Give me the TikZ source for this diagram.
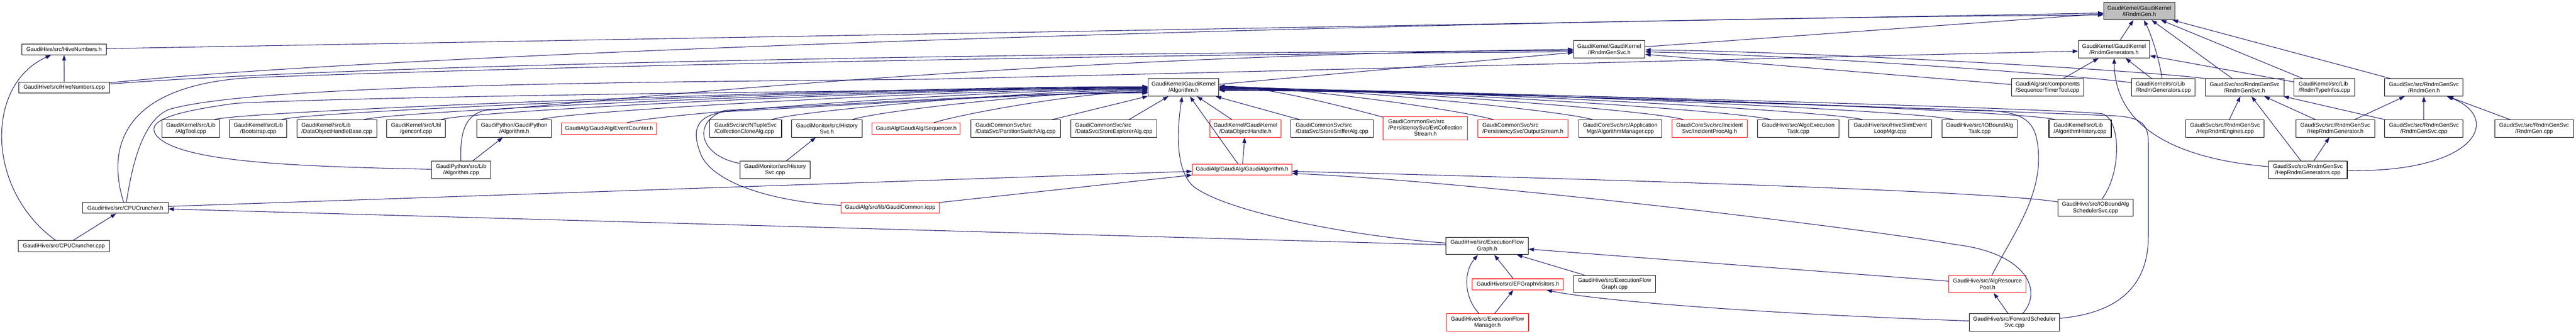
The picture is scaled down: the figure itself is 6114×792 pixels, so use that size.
\documentclass[tikz,border=0pt]{standalone}
\usepackage{fontspec}
\setmainfont{Liberation Sans}
\usetikzlibrary{arrows.meta}

\definecolor{edgeblue}{HTML}{191970}
\definecolor{mainfill}{HTML}{BFBFBF}
\newcommand{\doxfont}{\fontsize{13.3}{15}\selectfont}

\tikzset{
  file/.style={draw=black, line width=1.3pt, fill=white, inner sep=0pt, align=center, font=\doxfont},
  redfile/.style={file, draw=red},
  one/.style={minimum height=26pt},
  two/.style={minimum height=41pt},
  three/.style={minimum height=55pt},
  inc/.style={draw=edgeblue, line width=1.3pt, -{Triangle[length=13pt,width=9pt]}}
}

\begin{document}
\begin{tikzpicture}[x=1pt, y=1pt]
        \fill[white] (0,0) rectangle (6114,-792);
        \useasboundingbox (0,0) rectangle (6114,-792);

        % The header itself
        \node[file, two, fill=mainfill, minimum width=169pt] (irndmgen) at (5077.5,-26.5) {GaudiKernel/GaudiKernel\\/IRndmGen.h};

        % Row 1
        \node[file, one, minimum width=200pt] (hivenumh) at (152,-117) {GaudiHive/src/HiveNumbers.h};
        \node[file, two, minimum width=169pt] (irndmsvc) at (3819.5,-117) {GaudiKernel/GaudiKernel\\/IRndmGenSvc.h};
        \node[file, two, minimum width=169pt] (rndmgensh) at (5017.5,-117) {GaudiKernel/GaudiKernel\\/RndmGenerators.h};

        % Row 2
        \node[file, one, minimum width=215pt] (hivenumcpp) at (152.5,-207.5) {GaudiHive/src/HiveNumbers.cpp};
        \node[file, two, minimum width=168pt] (algh) at (2809,-207.5) {GaudiKernel/GaudiKernel\\/Algorithm.h};
        \node[file, two, align=left, minimum width=172pt] (seqtimer) at (4860,-207.5) {GaudiAlg/src/components\\/SequencerTimerTool.cpp};
        \node[file, two, align=left, minimum width=151pt] (rndmgencpp) at (5134.5,-207.5) {GaudiKernel/src/Lib\\/RndmGenerators.cpp};
        \node[file, two, minimum width=187pt] (rndmsvch) at (5327.5,-207.5) {GaudiSvc/src/RndmGenSvc\\/RndmGenSvc.h};
        \node[file, two, align=left, minimum width=144pt] (rndmtypes) at (5517,-207.5) {GaudiKernel/src/Lib\\/RndmTypeInfos.cpp};
        \node[file, two, minimum width=186pt] (rndmgenh) at (5753,-207.5) {GaudiSvc/src/RndmGenSvc\\/RndmGen.h};

        % Row 3
        \node[file, two, minimum width=136pt] (algtool) at (453,-305) {GaudiKernel/src/Lib\\/AlgTool.cpp};
        \node[file, two, minimum width=136pt] (bootstrap) at (613,-305) {GaudiKernel/src/Lib\\/Bootstrap.cpp};
        \node[file, two, align=left, minimum width=189pt] (dohbase) at (799.5,-305) {GaudiKernel/src/Lib\\/DataObjectHandleBase.cpp};
        \node[file, two, minimum width=139pt] (genconf) at (987.5,-305) {GaudiKernel/src/Util\\/genconf.cpp};
        \node[file, two, minimum width=177pt] (pyalgh) at (1220.5,-305) {GaudiPython/GaudiPython\\/Algorithm.h};
        \node[redfile, one, minimum width=227pt] (evtcounter) at (1445.5,-305) {GaudiAlg/GaudiAlg/EventCounter.h};
        \node[file, two, align=left, minimum width=171pt] (collclone) at (1769.5,-305) {GaudiSvc/src/NTupleSvc\\/CollectionCloneAlg.cpp};
        \node[file, two, minimum width=167pt] (histsvch) at (1962.5,-305) {GaudiMonitor/src/History\\Svc.h};
        \node[redfile, one, minimum width=209pt] (sequencer) at (2174.5,-305) {GaudiAlg/GaudiAlg/Sequencer.h};
        \node[file, two, align=left, minimum width=213pt] (partswitch) at (2410.5,-305) {GaudiCommonSvc/src\\/DataSvc/PartitionSwitchAlg.cpp};
        \node[file, two, align=left, minimum width=205pt] (storeexpl) at (2643.5,-305) {GaudiCommonSvc/src\\/DataSvc/StoreExplorerAlg.cpp};
        \node[redfile, two, minimum width=168pt] (dohandle) at (2956,-305) {GaudiKernel/GaudiKernel\\/DataObjectHandle.h};
        \node[file, two, align=left, minimum width=195pt] (storesniff) at (3161.5,-305) {GaudiCommonSvc/src\\/DataSvc/StoreSnifferAlg.cpp};
        \node[redfile, three, minimum width=200pt] (evtcoll) at (3383,-304.5) {\begin{tabular}{@{}l@{}}GaudiCommonSvc/src\\/PersistencySvc/EvtCollection\\\multicolumn{1}{@{}c@{}}{Stream.h}\end{tabular}};
        \node[redfile, two, align=left, minimum width=215pt] (outstream) at (3614.5,-305) {GaudiCommonSvc/src\\/PersistencySvc/OutputStream.h};
        \node[file, two, minimum width=197pt] (algmgr) at (3845.5,-305) {GaudiCoreSvc/src/Application\\Mgr/AlgorithmManager.cpp};
        \node[redfile, two, minimum width=179pt] (incproc) at (4057.5,-305) {GaudiCoreSvc/src/Incident\\Svc/IncidentProcAlg.h};
        \node[file, two, minimum width=194pt] (algoexec) at (4268,-305) {GaudiHive/src/AlgoExecution\\Task.cpp};
        \node[file, two, minimum width=197pt] (hiveslim) at (4486.5,-305) {GaudiHive/src/HiveSlimEvent\\LoopMgr.cpp};
        \node[file, two, minimum width=179pt] (iotask) at (4698.5,-305) {GaudiHive/src/IOBoundAlg\\Task.cpp};
        \node[file, two, align=left, minimum width=148pt] (alghist) at (4937,-305) {GaudiKernel/src/Lib\\/AlgorithmHistory.cpp};
        \node[file, two, minimum width=186pt] (hepengines) at (5281,-305) {GaudiSvc/src/RndmGenSvc\\/HepRndmEngines.cpp};
        \node[file, two, minimum width=187pt] (hepgenh) at (5542.5,-305) {GaudiSvc/src/RndmGenSvc\\/HepRndmGenerator.h};
        \node[file, two, minimum width=186pt] (rndmsvccpp) at (5753,-305) {GaudiSvc/src/RndmGenSvc\\/RndmGenSvc.cpp};
        \node[file, two, minimum width=187pt] (rndmgen) at (6014.5,-305) {GaudiSvc/src/RndmGenSvc\\/RndmGen.cpp};

        % Row 4
        \node[file, two, minimum width=141pt] (pyalgcpp) at (1094.5,-403) {GaudiPython/src/Lib\\/Algorithm.cpp};
        \node[file, two, minimum width=167pt] (histsvccpp) at (1839.5,-403) {GaudiMonitor/src/History\\Svc.cpp};
        \node[redfile, one, minimum width=236pt] (gaudialgh) at (2948,-402.5) {GaudiAlg/GaudiAlg/GaudiAlgorithm.h};
        \node[file, two, minimum width=187pt] (hepgens) at (5477.5,-403) {GaudiSvc/src/RndmGenSvc\\/HepRndmGenerators.cpp};

        % Row 5
        \node[file, one, minimum width=203pt] (cpuh) at (297.5,-493) {GaudiHive/src/CPUCruncher.h};
        \node[redfile, one, minimum width=234pt] (gcommon) at (2113,-493) {GaudiAlg/src/lib/GaudiCommon.icpp};
        \node[file, two, minimum width=179pt] (iosched) at (4973.5,-493) {GaudiHive/src/IOBoundAlg\\SchedulerSvc.cpp};

        % Row 6
        \node[file, one, minimum width=217pt] (cpucpp) at (151.5,-584) {GaudiHive/src/CPUCruncher.cpp};
        \node[file, two, minimum width=195pt] (efgraphh) at (3529.5,-583.5) {GaudiHive/src/ExecutionFlow\\Graph.h};

        % Row 7
        \node[redfile, one, minimum width=217pt] (efvisit) at (3602.5,-674.5) {GaudiHive/src/EFGraphVisitors.h};
        \node[file, two, minimum width=194pt] (efgraphcpp) at (3832,-674) {GaudiHive/src/ExecutionFlow\\Graph.cpp};
        \node[redfile, two, minimum width=184pt] (algpool) at (4717,-674) {GaudiHive/src/AlgResource\\Pool.h};

        % Row 8
        \node[redfile, two, minimum width=195pt] (efmanager) at (3530.5,-765) {GaudiHive/src/ExecutionFlow\\Manager.h};
        \node[file, two, minimum width=214pt] (fwdsched) at (4781,-765) {GaudiHive/src/ForwardScheduler\\Svc.cpp};

        % Who includes IRndmGen.h
        \draw[inc] (hivenumh) -- (irndmgen.183);
        \draw[inc] (hivenumcpp) .. controls (1000,-120) and (3500,-45) .. (irndmgen.186);
        \draw[inc] (irndmsvc) -- (irndmgen);
        \draw[inc] (rndmgensh) -- (irndmgen);
        \draw[inc] (rndmgencpp) .. controls (5125,-140) and (5105,-80) .. (irndmgen);
        \draw[inc] (rndmsvch) -- (irndmgen);
        \draw[inc] (rndmtypes) -- (irndmgen);
        \draw[inc] (rndmgenh) -- (irndmgen);

        % Who includes IRndmGenSvc.h
        \draw[inc] (algh) -- (irndmsvc);
        \draw[inc] (hivenumcpp) .. controls (900,-150) and (2500,-125) .. (irndmsvc.182);
        \draw[inc] (cpuh) .. controls (250,-340) and (300,-200) .. (600,-184) .. controls (1500,-150) and (3000,-126) .. (irndmsvc.184);
        \draw[inc] (pyalgcpp) .. controls (1092,-320) and (1100,-275) .. (1150,-262) .. controls (1500,-235) and (2400,-135) .. (irndmsvc.180);
        \draw[inc] (seqtimer) -- (irndmsvc.-8);
        \draw[inc] (rndmgencpp) .. controls (4950,-180) and (4300,-132) .. (irndmsvc.-4);
        \draw[inc] (rndmsvch.north west) .. controls (5100,-168) and (4300,-122) .. (irndmsvc.-1);

        % Who includes RndmGenerators.h
        \draw[inc] (cpuh) .. controls (310,-420) and (330,-290) .. (400,-260) .. controls (600,-200) and (1500,-195) .. (2200,-188) .. controls (3200,-165) and (4300,-135) .. (rndmgensh.183);
        \draw[inc] (seqtimer) -- (rndmgensh);
        \draw[inc] (rndmgencpp) -- (rndmgensh);
        \draw[inc] (rndmtypes) -- (rndmgensh);
        \draw[inc] (hepgens) .. controls (5200,-380) and (5020,-320) .. (rndmgensh);

        % Random service sources
        \draw[inc] (hepengines) -- (rndmsvch);
        \draw[inc] (hepgenh) -- (rndmsvch);
        \draw[inc] (rndmsvccpp) -- (rndmsvch);
        \draw[inc] (hepgens) -- (rndmsvch);
        \draw[inc] (hepgenh) -- (rndmgenh);
        \draw[inc] (rndmsvccpp) -- (rndmgenh);
        \draw[inc] (rndmgen) -- (rndmgenh);
        \draw[inc] (hepgens) .. controls (5880,-410) and (5940,-280) .. (rndmgenh);
        \draw[inc] (hepgens) -- (hepgenh);

        % Algorithm.h, from the left
        \draw[inc] (algtool) .. controls (564,-263) and (2059,-205.5) .. ([yshift=2pt]algh.west);
        \draw[inc] (bootstrap) .. controls (723,-263) and (2106,-206.5) .. ([yshift=1pt]algh.west);
        \draw[inc] (dohbase) .. controls (927,-263) and (2168,-207.5) .. (algh.west);
        \draw[inc] (genconf) .. controls (1105,-263) and (2221,-208.5) .. ([yshift=-1pt]algh.west);
        \draw[inc] (pyalgcpp) .. controls (700,-395) and (420,-385) .. (370,-320) .. controls (350,-290) and (390,-268) .. (560,-245) .. controls (900,-228) and (2000,-215) .. ([yshift=-2pt]algh.west);
        \draw[inc] (pyalgh) .. controls (1344,-263) and (2293,-210.5) .. ([yshift=-3pt]algh.west);
        \draw[inc] (evtcounter) .. controls (1554,-270) and (2356,-211.5) .. ([yshift=-4pt]algh.west);
        \draw[inc] (collclone) .. controls (1892,-263) and (2458,-213.5) .. ([yshift=-6pt]algh.west);
        \draw[inc] (histsvch) .. controls (2082,-263) and (2515,-215.5) .. ([yshift=-8pt]algh.west);
        \draw[inc] (sequencer) .. controls (2280,-270) and (2573,-217.5) .. ([yshift=-10pt]algh.west);
        \draw[inc] (histsvccpp) .. controls (1660,-370) and (1640,-290) .. (1720,-262) .. controls (2100,-242) and (2450,-220) .. ([yshift=-12pt]algh.west);
        \draw[inc] (gcommon) .. controls (1850,-480) and (1700,-440) .. (1665,-370) .. controls (1640,-310) and (1650,-275) .. (1720,-265) .. controls (2100,-245) and (2450,-221) .. ([yshift=-13pt]algh.west);
        \draw[inc] (partswitch) -- (algh);
        \draw[inc] (storeexpl) -- (algh);

        % Algorithm.h, from below and the right
        \draw[inc] (dohandle) -- (algh);
        \draw[inc] (gaudialgh) -- (algh);
        \draw[inc] (storesniff) -- (algh);
        \draw[inc] (efgraphh) .. controls (3200,-560) and (2900,-500) .. (2830,-440) .. controls (2795,-405) and (2790,-330) .. (algh);
        \draw[inc] (evtcoll) .. controls (3223,-262) and (3010,-204.5) .. ([yshift=3pt]algh.east);
        \draw[inc] (outstream) .. controls (3476,-263) and (3086,-205.5) .. ([yshift=2pt]algh.east);
        \draw[inc] (algmgr) .. controls (3715,-263) and (3158,-206.5) .. ([yshift=1pt]algh.east);
        \draw[inc] (incproc) .. controls (3935,-263) and (3224,-207.5) .. (algh.east);
        \draw[inc] (algoexec) .. controls (4138,-263) and (3285,-208.5) .. ([yshift=-1pt]algh.east);
        \draw[inc] (hiveslim) .. controls (4355,-263) and (3350,-209.5) .. ([yshift=-2pt]algh.east);
        \draw[inc] (iotask) .. controls (4575,-263) and (3416,-210.5) .. ([yshift=-3pt]algh.east);
        \draw[inc] (alghist) .. controls (4820,-263) and (3489,-211.5) .. ([yshift=-4pt]algh.east);
        \draw[inc] (algpool) .. controls (4775,-560) and (4845,-470) .. (4838,-360) .. controls (4833,-290) and (4810,-268) .. (4720,-262) .. controls (4200,-248) and (3400,-214) .. ([yshift=-5pt]algh.east);
        \draw[inc] (iosched) .. controls (5035,-410) and (5035,-285) .. (4990,-270) .. controls (4900,-258) and (3500,-216) .. ([yshift=-6pt]algh.east);
        \draw[inc] (fwdsched) .. controls (5000,-745) and (5099,-700) .. (5099,-560) -- (5099,-340) .. controls (5099,-290) and (5080,-276) .. (5000,-274) .. controls (4900,-270) and (3600,-218) .. ([yshift=-7pt]algh.east);

        % GaudiAlgorithm.h
        \draw[inc] (gaudialgh) -- (dohandle);
        \draw[inc] (cpuh) -- (gaudialgh);
        \draw[inc] (gcommon) -- (gaudialgh);
        \draw[inc] (iosched) .. controls (4700,-450) and (3600,-420) .. ([yshift=-4pt]gaudialgh.east);
        \draw[inc] (fwdsched) .. controls (4850,-690) and (4810,-600) .. (4640,-580) .. controls (4450,-545) and (3500,-430) .. ([yshift=-9pt]gaudialgh.east);

        % Execution flow
        \draw[inc] (efgraphh) -- (cpuh);
        \draw[inc] (efvisit) -- (efgraphh);
        \draw[inc] (efgraphcpp) -- (efgraphh);
        \draw[inc] (algpool) -- (efgraphh);
        \draw[inc] (efmanager) -- (efvisit);
        \draw[inc] ([xshift=-20pt]efmanager.north) .. controls (3478,-710) and (3470,-650) .. ([xshift=-22pt]efgraphh.south);
        \draw[inc] (fwdsched) .. controls (4200,-745) and (3800,-715) .. ([xshift=-41pt]efvisit.south east);
        \draw[inc] (fwdsched) -- (algpool);

        % Python and monitor sources
        \draw[inc] (pyalgcpp) -- (pyalgh);
        \draw[inc] (histsvccpp) -- (histsvch);

        % Hive numbers and cruncher
        \draw[inc] (hivenumcpp) -- (hivenumh);
        \draw[inc] (cpucpp) .. controls (-35,-450) and (-35,-200) .. (hivenumh);
        \draw[inc] (cpucpp) -- (cpuh);
    \end{tikzpicture}
\end{document}
